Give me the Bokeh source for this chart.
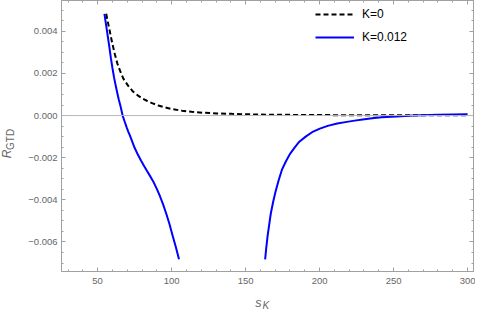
import math
from bokeh.plotting import figure
from bokeh.models import (Range1d, LinearAxis, FixedTicker, CustomJSTickFormatter,
                          Span, Label, Legend, LegendItem)
from bokeh.embed import file_html
from bokeh.resources import INLINE

# ---- data ----
s_k0 = [55.8, 56.8, 57.9, 59.0, 60.1, 61.7, 63.3, 65.4, 67.5, 70.7, 73.9, 77.1,
        80.4, 83.6, 86.8, 91, 95, 100.7, 107, 113.5, 122, 130.7, 141, 152, 165,
        185, 210, 250, 300]
r_k0 = [0.00483, 0.00447, 0.00412, 0.00373, 0.00337, 0.00290, 0.00248, 0.00208,
        0.00174, 0.00141, 0.00114, 0.00096, 0.00080, 0.00069, 0.00059, 0.00048,
        0.00040, 0.00030, 0.00023, 0.00018, 0.00013, 0.00010, 0.00008, 0.00006,
        0.00004, 0.00003, 0.00002, 0.00001, 0.00001]

s_k012_a = [54.6, 55.6, 56.9, 58.0, 59.0, 60.0, 61.1, 62.2, 63.3, 64.3, 65.4,
            66.9, 68.2, 69.7, 70.7, 71.8, 73.4, 75.0, 77.1, 79.3, 81.5, 83.6,
            85.8, 87.9, 90.0, 92.2, 94.3, 96.4, 98.6, 100.7, 102.9, 105.0]
r_k012_a = [0.00483, 0.00436, 0.00375, 0.00322, 0.00271, 0.00227, 0.00181,
            0.00143, 0.00107, 0.00076, 0.00047, 0.0, -0.00027, -0.00057,
            -0.00076, -0.00094, -0.00124, -0.00153, -0.00184, -0.00213, -0.00240,
            -0.00265, -0.00291, -0.00317, -0.00348, -0.00384, -0.00423, -0.00466,
            -0.00516, -0.00570, -0.00625, -0.00682]

s_k012_b = [163.2, 164.0, 164.9, 166.0, 167.0, 168.6, 170.2, 172.3, 174.5, 177.2,
            179.9, 183.1, 186.3, 190.6, 194.9, 200.2, 205.5, 211.9, 218.4, 223.7,
            229.1, 235.5, 241.9, 252, 263.3, 280, 300]
r_k012_b = [-0.00682, -0.00625, -0.00570, -0.00515, -0.00466, -0.00410, -0.00362,
            -0.00308, -0.00258, -0.00218, -0.00183, -0.00152, -0.00124, -0.00100,
            -0.00079, -0.00062, -0.00049, -0.00038, -0.00030, -0.00024, -0.00019,
            -0.00013, -0.00008, -0.00004, 0.0, 0.00004, 0.00006]

x_ticks = [50, 100, 150, 200, 250, 300]
x_minor = [30, 40, 60, 70, 80, 90, 110, 120, 130, 140, 160, 170, 180, 190,
           210, 220, 230, 240, 260, 270, 280, 290]
y_ticks = [-0.006, -0.004, -0.002, 0.0, 0.002, 0.004]
y_minor = [-0.007, -0.0065, -0.0055, -0.005, -0.0045, -0.0035, -0.003, -0.0025,
           -0.0015, -0.001, -0.0005, 0.0005, 0.001, 0.0015, 0.0025, 0.003,
           0.0035, 0.0045, 0.005]
legend_labels = ["K=0", "K=0.012"]

FONT = "Liberation Sans"
GRAY = "#a0a0a0"
TXT = "#666666"

W, H = 475, 311
BL, BR, BT, BB = 50, 2, 0, 37
FW, FH = W - BL - BR, H - BT - BB

p = figure(width=W, height=H, output_backend="svg", toolbar_location=None,
           x_range=Range1d(25.6, 304), y_range=Range1d(-0.0074, 0.00546),
           min_border_left=BL, min_border_right=BR, min_border_top=BT,
           min_border_bottom=BB)
p.xgrid.visible = False
p.ygrid.visible = False
p.outline_line_color = GRAY
p.background_fill_color = "white"
p.border_fill_color = "white"

fmt_y = CustomJSTickFormatter(code="""
return (tick < -1e-12 ? "\u2212" : "") + Math.abs(tick).toFixed(3);
""")
fmt_blank = CustomJSTickFormatter(code="return '';")

def style(ax, show_labels):
    ax.axis_line_color = GRAY
    ax.major_tick_line_color = GRAY
    ax.minor_tick_line_color = GRAY
    ax.major_tick_in = 4
    ax.major_tick_out = 0
    ax.minor_tick_in = 2
    ax.minor_tick_out = 0
    ax.axis_label = None
    if show_labels:
        ax.major_label_text_font = FONT
        ax.major_label_text_font_size = "9.5px"
        ax.major_label_text_color = TXT
    else:
        ax.formatter = fmt_blank
        ax.major_label_standoff = 0

xt = FixedTicker(ticks=x_ticks, minor_ticks=x_minor)
yt = FixedTicker(ticks=y_ticks, minor_ticks=y_minor)

p.xaxis.ticker = xt
p.yaxis.ticker = yt
p.yaxis.formatter = fmt_y
style(p.xaxis[0], True)
style(p.yaxis[0], True)
p.xaxis.major_label_standoff = 6
p.yaxis.major_label_standoff = 4

top = LinearAxis(ticker=xt)
right = LinearAxis(ticker=yt)
style(top, False)
style(right, False)
p.add_layout(top, "above")
p.add_layout(right, "right")

p.add_layout(Span(location=0, dimension="width", line_color="#b8b8b8", line_width=1))

nan = float("nan")
l0 = p.line(s_k0, r_k0, line_color="black", line_width=2, line_dash="5 3")
l1 = p.line(s_k012_a + [nan] + s_k012_b, r_k012_a + [nan] + r_k012_b,
            line_color="#0000ff", line_width=2)

leg = Legend(items=[LegendItem(label=legend_labels[0], renderers=[l0]),
                    LegendItem(label=legend_labels[1], renderers=[l1])],
             location=(254, FH - 50), border_line_color=None,
             background_fill_alpha=0, padding=2, spacing=3,
             glyph_width=39, glyph_height=20, label_height=20,
             label_standoff=8, label_text_font=FONT,
             label_text_font_size="12px", label_text_color="black")
p.add_layout(leg, "center")

# axis titles with subscripts, placed in canvas coordinates in the side panels
fx = BL + FW / 2
fb = H - BB
p.add_layout(Label(x=fx - 0.5, y=fb + 28, x_units="canvas", y_units="canvas", text="s",
                   text_font=FONT, text_font_style="italic", text_font_size="12.5px",
                   text_color=TXT, text_align="right", text_baseline="alphabetic"),
             "below")
p.add_layout(Label(x=fx + 0.5, y=fb + 31, x_units="canvas", y_units="canvas", text="K",
                   text_font=FONT, text_font_style="italic", text_font_size="10px",
                   text_color=TXT, text_align="left", text_baseline="alphabetic"),
             "below")
fy = BT + FH / 2 + 6
p.add_layout(Label(x=6.5, y=fy + 10.5, x_units="canvas", y_units="canvas", text="R",
                   angle=math.pi / 2, text_font=FONT, text_font_style="italic",
                   text_font_size="12px", text_color=TXT, text_align="center",
                   text_baseline="middle"), "left")
p.add_layout(Label(x=9.5, y=fy + 6.5, x_units="canvas", y_units="canvas", text="GTD",
                   angle=math.pi / 2, text_font=FONT, text_font_size="10px",
                   text_color=TXT, text_align="left", text_baseline="middle"), "left")

open("out.html", "w").write(file_html(p, INLINE))
